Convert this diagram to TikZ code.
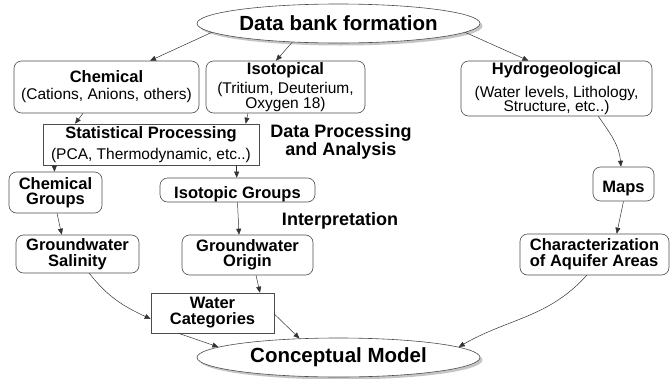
\documentclass[tikz,border=0pt]{standalone}
\usepackage{fontspec}
\setmainfont{Liberation Sans}
\usetikzlibrary{arrows.meta,shapes.geometric,shadows}
\newcommand\subt[1]{{\fontsize{15.5}{14.5}\selectfont\mdseries #1}}
\begin{document}
\begin{tikzpicture}[x=1pt,y=-1pt,
  bx/.style={draw=black!70, line width=0.6pt, rounded corners=7.5pt, inner sep=0pt, align=center, font=\fontsize{16.5}{14.5}\selectfont\bfseries, execute at begin node={\rule{0pt}{20pt}}},
  rbx/.style={bx, rounded corners=0pt},
  ell/.style={ellipse, draw=black!70, line width=0.6pt, fill=white, inner sep=0pt, minimum width=283pt, minimum height=39pt, font=\fontsize{20.5}{20}\selectfont\bfseries, drop shadow={shadow xshift=2.5pt, shadow yshift=-2.5pt, fill=black!45}},
  lbl/.style={inner sep=0pt, align=center, font=\fontsize{18}{16}\selectfont\bfseries},
  conn/.style={draw=black!80, line width=0.5pt, -{Triangle[length=6pt,width=5pt]}}
]
\useasboundingbox (0,0) rectangle (670,378);
\node[ell] (db) at (338.5,23.5) {Data bank formation};
\node[bx, minimum width=185pt, minimum height=52pt] (chem) at (106.5,87) {Chemical\\[2.5pt]\subt{(Cations, Anions, others)}};
\node[bx, minimum width=159pt, minimum height=52pt] (iso) at (285.5,87) {Isotopical\\[3.5pt]\subt{(Tritium, Deuterium,}\\\subt{Oxygen 18)}};
\node[bx, minimum width=191pt, minimum height=55pt] (hydro) at (556.5,88.5) {Hydrogeological\\[7.5pt]\subt{(Water levels, Lithology,}\\\subt{Structure, etc..)}};
\node[rbx, minimum width=216pt, minimum height=41pt] (stat) at (151,144.5) {Statistical Processing\\[5.5pt]\subt{(PCA, Thermodynamic, etc..)}};
\node[lbl] (dpa) at (341,142) {Data Processing\\and Analysis};
\node[bx, minimum width=93pt, minimum height=41pt] (cg) at (55.5,192.5) {Chemical\\[1pt]Groups};
\node[bx, minimum width=155pt, minimum height=24pt] (ig) at (237.5,190) {Isotopic Groups};
\node[lbl] (interp) at (340,221) {Interpretation};
\node[bx, minimum width=123pt, minimum height=38pt] (gs) at (77.5,254) {Groundwater\\[1pt]Salinity};
\node[bx, minimum width=131pt, minimum height=40pt] (go) at (247.5,255) {Groundwater\\[1pt]Origin};
\node[bx, minimum width=61pt, minimum height=34pt] (maps) at (623.5,184) {Maps};
\node[bx, minimum width=149pt, minimum height=41pt, align=left] (char) at (594.5,254.5) {Characterization\\[1.5pt]of Aquifer Areas};
\node[rbx, minimum width=123pt, minimum height=40pt] (wc) at (212.5,313) {Water\\[1.5pt]Categories};
\node[ell] (cm) at (338.5,357.5) {Conceptual Model};

\draw[conn] (db.184) -- ([xshift=43.5pt]chem.north);
\draw[conn] (db.202) -- ([xshift=-9.5pt]iso.north);
\draw[conn] (db.356) -- ([xshift=-28pt]hydro.north);
\draw[conn] ([xshift=-23.5pt]chem.south) -- ([xshift=-76pt]stat.north);
\draw[conn] ([xshift=-37.5pt]iso.south) -- ([xshift=94.7pt]stat.north);
\draw[conn] ([xshift=-96.7pt]stat.south) -- ([xshift=-1pt]cg.north);
\draw[conn] ([xshift=85.7pt]stat.south) -- ([xshift=-0.8pt]ig.north);
\draw[conn] ([xshift=1.5pt]cg.south) -- ([xshift=-15.8pt]gs.north);
\draw[conn] (ig.south) -- ([xshift=-8.5pt]go.north);
\draw[conn] ([xshift=11.8pt]gs.south) to[out=-52,in=155] ([yshift=-6pt]wc.west);
\draw[conn] ([xshift=8.5pt]go.south) -- ([xshift=47.5pt]wc.north);
\draw[conn] ([xshift=-34pt]wc.south) -- (cm.175);
\draw[conn] ([yshift=-1pt]wc.east) -- (cm.154);
\draw[conn] ([xshift=41.8pt]hydro.south) to[out=-55,in=95] ([xshift=-2.5pt]maps.north);
\draw[conn] (maps.south) -- ([xshift=22.2pt]char.north);
\draw[conn] ([xshift=-7.8pt]char.south) to[out=-132,in=30] (cm.5);
\end{tikzpicture}
\end{document}
